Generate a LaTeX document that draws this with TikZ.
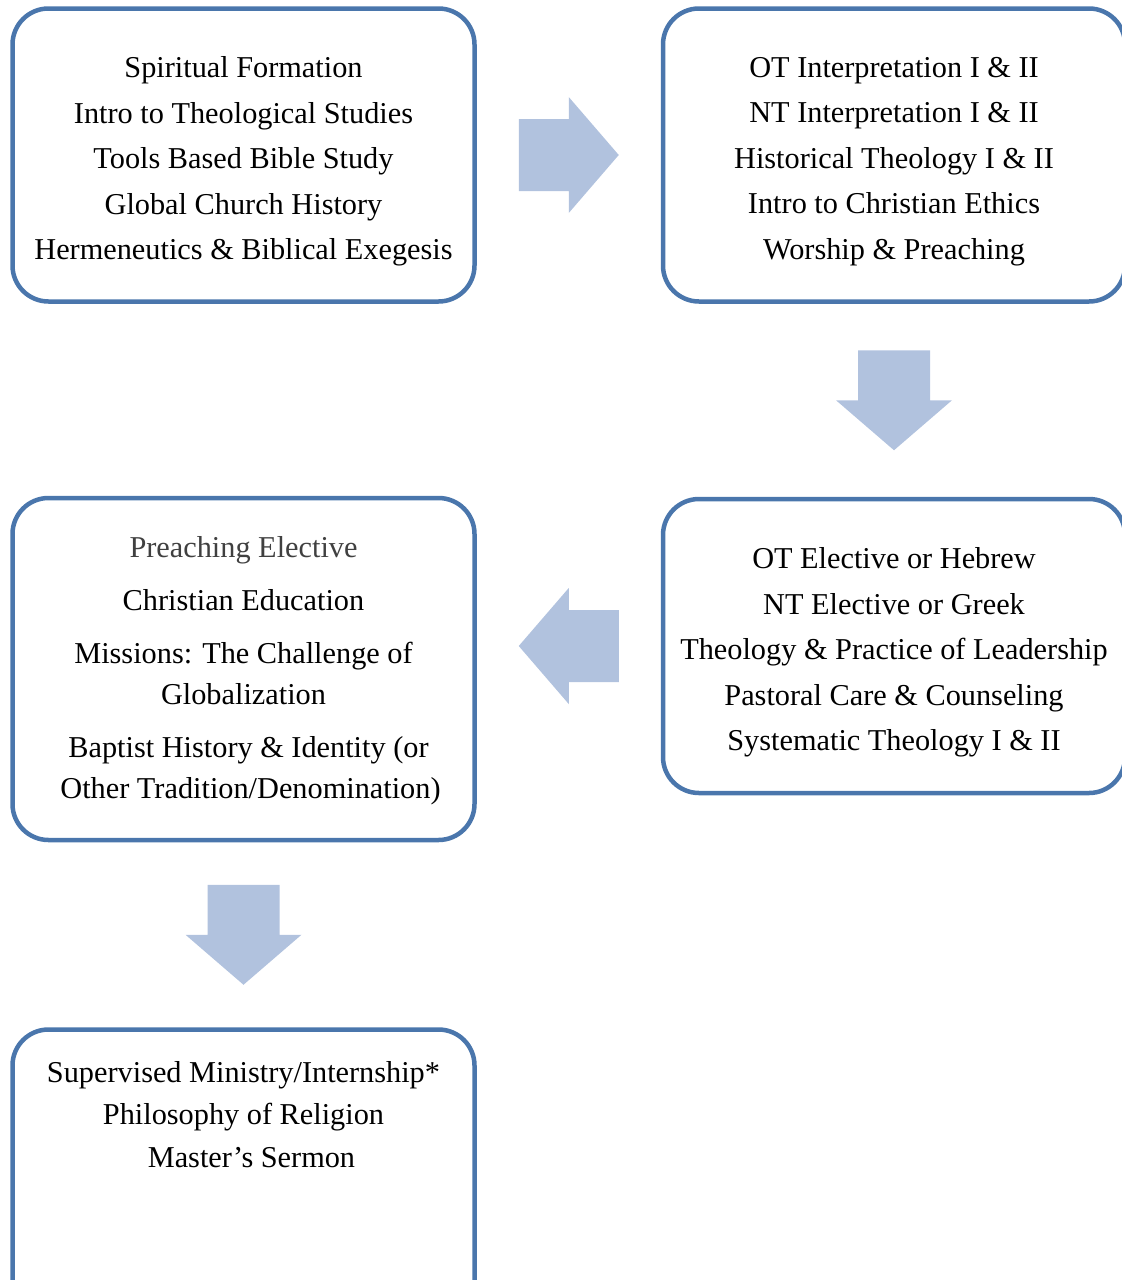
\documentclass[tikz,border=0pt]{standalone}
\usepackage{fontspec}
\setmainfont{Liberation Serif}
\usetikzlibrary{positioning, calc}
\definecolor{boxblue}{HTML}{4A76AC}
\definecolor{arrowblue}{HTML}{B1C2DE}
\definecolor{electivegray}{HTML}{404040}

\begin{document}
\begin{tikzpicture}[
         x=1pt, y=-1pt,
         course/.style={draw=boxblue, line width=4.5pt, rounded corners=36pt,
            minimum width=462pt, inner sep=0pt},
         courselist/.style={align=center, inner sep=0pt,
            font=\fontsize{30.3}{45.5}\selectfont},
         flowarrow/.pic={
            \fill[arrowblue] (-50,-36) -- (0,-36) -- (0,-58) -- (50,0)
               -- (0,58) -- (0,36) -- (-50,36) -- cycle;
         }
      ]
         \path[use as bounding box, clip] (0,0) rectangle (1122,1280);

         % Semester boxes
         \node[course, minimum height=293pt] (sem1) at (243.5,155) {};
         \node[course, minimum height=293pt] (sem2) [right=184pt of sem1] {};
         \node[course, minimum height=294pt] (sem3) [below=193pt of sem2] {};
         \node[course, minimum height=342pt] (sem4) [below=192pt of sem1] {};
         \node[course, minimum height=300pt] (sem5) [below=185pt of sem4] {};

         % Courses in each box
         \node[courselist] (sem1list) at ([yshift=-6.5pt]sem1.center) {
            Spiritual Formation\\
            Intro to Theological Studies\\
            Tools Based Bible Study\\
            Global Church History\\
            Hermeneutics \& Biblical Exegesis};
         \node[courselist] (sem2list) at ([yshift=-6.5pt]sem2.center) {
            OT Interpretation I \& II\\
            NT Interpretation I \& II\\
            Historical Theology I \& II\\
            Intro to Christian Ethics\\
            Worship \& Preaching};
         \node[courselist] (sem3list) at ([yshift=-6.5pt]sem3.center) {
            OT Elective or Hebrew\\
            NT Elective or Greek\\
            Theology \& Practice of Leadership\\
            Pastoral Care \& Counseling\\
            Systematic Theology I \& II};
         \node[courselist, font=\fontsize{30.3}{41}\selectfont]
            (sem4list) at ([yshift=-2pt]sem4.center) {
            {\color{electivegray}Preaching Elective}\\[12pt]
            Christian Education\\[12pt]
            Missions: The Challenge of\\
            Globalization\hspace*{14pt}\\[12pt]
            \hspace*{10pt}Baptist History \& Identity (or\\
            \hspace*{14pt}Other Tradition/Denomination)};
         \node[courselist, font=\fontsize{30.3}{42.5}\selectfont]
            (sem5list) [below=34pt of sem5.north] {
            Supervised Ministry/Internship*\\
            Philosophy of Religion\\
            \hspace*{16pt}Master’s Sermon};

         % Arrows between semesters
         \pic at ($(sem1.east)!0.5!(sem2.west)$) {flowarrow};
         \pic[rotate=-90] at ($(sem2.south)!0.5!(sem3.north)$) {flowarrow};
         \pic[rotate=180] at ($(sem3.west)!0.5!(sem4.east |- sem3.west)$) {flowarrow};
         \pic[rotate=-90] at ($(sem4.south)!0.5!(sem5.north)$) {flowarrow};

      \end{tikzpicture}
\end{document}
